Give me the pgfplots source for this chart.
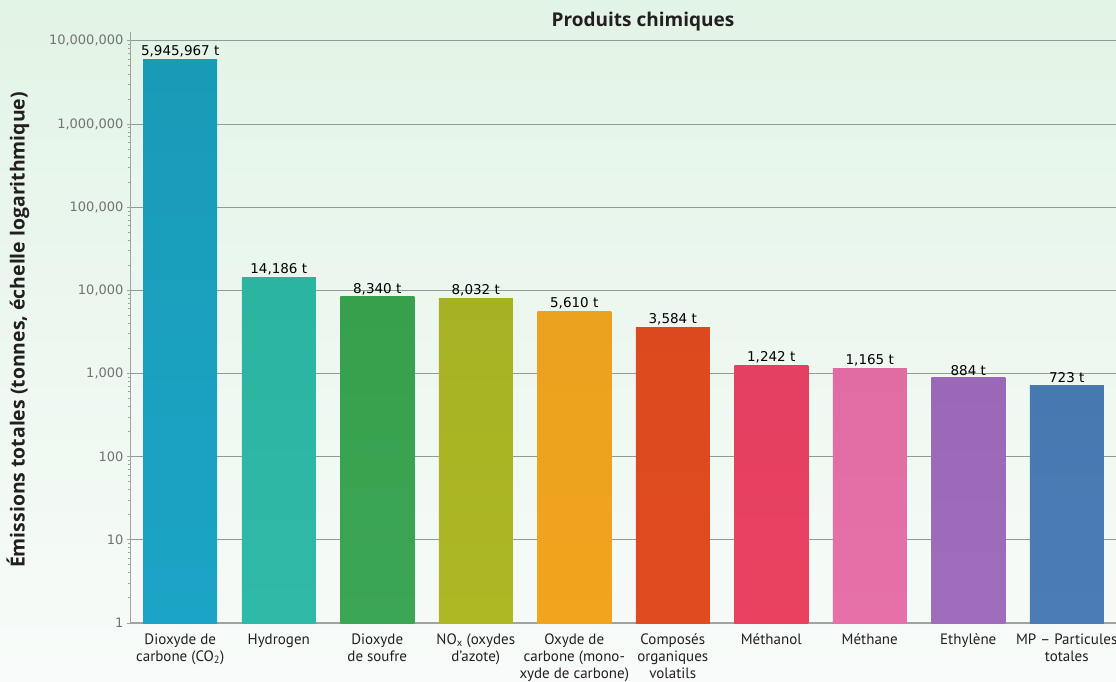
\documentclass[border=0pt]{standalone}
\usepackage{pgfplots}
\pgfplotsset{compat=1.18}
\usepackage{fontspec}
\setmainfont{PT Sans}
\newfontfamily\dejavu{DejaVu Sans}
\newfontfamily\opensans{Open Sans}
\definecolor{bgtop}{RGB}{226,244,230}
\definecolor{bgbot}{RGB}{248,251,249}
\definecolor{gridc}{RGB}{145,155,148}
\definecolor{axc}{RGB}{160,163,161}
\definecolor{tickc}{RGB}{115,115,115}
\definecolor{txtc}{RGB}{35,31,32}
\definecolor{aT}{RGB}{24,155,183}\definecolor{aB}{RGB}{28,164,198}
\definecolor{bT}{RGB}{43,180,160}\definecolor{bB}{RGB}{47,185,167}
\definecolor{cT}{RGB}{54,160,76}\definecolor{cB}{RGB}{59,166,84}
\definecolor{dT}{RGB}{166,178,36}\definecolor{dB}{RGB}{174,184,37}
\definecolor{eT}{RGB}{235,162,30}\definecolor{eB}{RGB}{241,164,30}
\definecolor{fT}{RGB}{219,74,30}\definecolor{fB}{RGB}{225,75,32}
\definecolor{gT}{RGB}{228,64,98}\definecolor{gB}{RGB}{234,65,96}
\definecolor{hT}{RGB}{225,108,164}\definecolor{hB}{RGB}{231,112,168}
\definecolor{iT}{RGB}{155,104,183}\definecolor{iB}{RGB}{160,108,188}
\definecolor{jT}{RGB}{71,120,176}\definecolor{jB}{RGB}{75,124,182}
\begin{document}
\begin{tikzpicture}
\shade[top color=bgtop, bottom color=bgbot] (-131pt,-58pt) rectangle (985pt,623pt);
\begin{axis}[
  at={(0pt,0pt)}, anchor=south west,
  scale only axis, width=985pt, height=591pt,
  ymode=log, ymin=1, ymax=1.28e7,
  xmin=-0.5, xmax=9.5,
  ybar, bar width=74pt, bar shift=0pt,
  axis x line*=bottom, axis y line*=left,
  x axis line style={draw=axc, line width=1.5pt, -},
  y axis line style={draw=axc, line width=1pt, -},
  ytick={1,10,100,1000,10000,100000,1000000,10000000},
  yticklabels={1,10,100,{1,000},{10,000},{100,000},{1,000,000},{10,000,000}},
  yticklabel style={font=\dejavu\fontsize{13}{15}\selectfont, text=tickc},
  ytick style={draw=axc, line width=1pt},
  tick align=outside, major tick length=4pt,
  minor ytick={}, 
  xtick={0,1,2,3,4,5,6,7,8,9},
  xtick style={draw=none},
  xticklabels={{Dioxyde de\\carbone (CO\textsubscript{2})},Hydrogen,{Dioxyde\\de soufre},{NO\textsubscript{x} (oxydes\\d’azote)},{Oxyde de\\carbone (mono-\\xyde de carbone)},{Composés\\organiques\\volatils},Méthanol,Méthane,Ethylène,{MP – Particules\\totales}},
  xticklabel style={align=center, font=\fontsize{15}{17}\selectfont, text=txtc, anchor=north, yshift=-3pt},
  ymajorgrids, major grid style={draw=gridc, line width=1pt},
  point meta=explicit symbolic,
  nodes near coords,
  nodes near coords style={font=\dejavu\fontsize{13.5}{15}\selectfont, text=black, anchor=south, inner sep=2pt},
  every axis title shift/.style={},
  title={Produits chimiques},
  title style={font=\opensans\bfseries\fontsize{19}{22}\selectfont, text=txtc, at={(axis description cs:0.5198,1.0068)}, anchor=center},
  ylabel={Émissions totales (tonnes, échelle logarithmique)},
  ylabel style={font=\opensans\bfseries\fontsize{19.4}{22}\selectfont, text=txtc, at={(axis description cs:-0.1147,0.4958)}, anchor=center},
]
\addplot[draw=none, top color=aT, bottom color=aB] coordinates {(0,5945967) [5,945,967 t]};
\addplot[draw=none, top color=bT, bottom color=bB] coordinates {(1,14186) [14,186 t]};
\addplot[draw=none, top color=cT, bottom color=cB] coordinates {(2,8340) [8,340 t]};
\addplot[draw=none, top color=dT, bottom color=dB] coordinates {(3,8032) [8,032 t]};
\addplot[draw=none, top color=eT, bottom color=eB] coordinates {(4,5610) [5,610 t]};
\addplot[draw=none, top color=fT, bottom color=fB] coordinates {(5,3584) [3,584 t]};
\addplot[draw=none, top color=gT, bottom color=gB] coordinates {(6,1242) [1,242 t]};
\addplot[draw=none, top color=hT, bottom color=hB] coordinates {(7,1165) [1,165 t]};
\addplot[draw=none, top color=iT, bottom color=iB] coordinates {(8,884) [884 t]};
\addplot[draw=none, top color=jT, bottom color=jB] coordinates {(9,723) [723 t]};
\end{axis}
\pgfresetboundingbox
\path (-131pt,-58pt) rectangle (985pt,623pt);
\end{tikzpicture}
\end{document}
